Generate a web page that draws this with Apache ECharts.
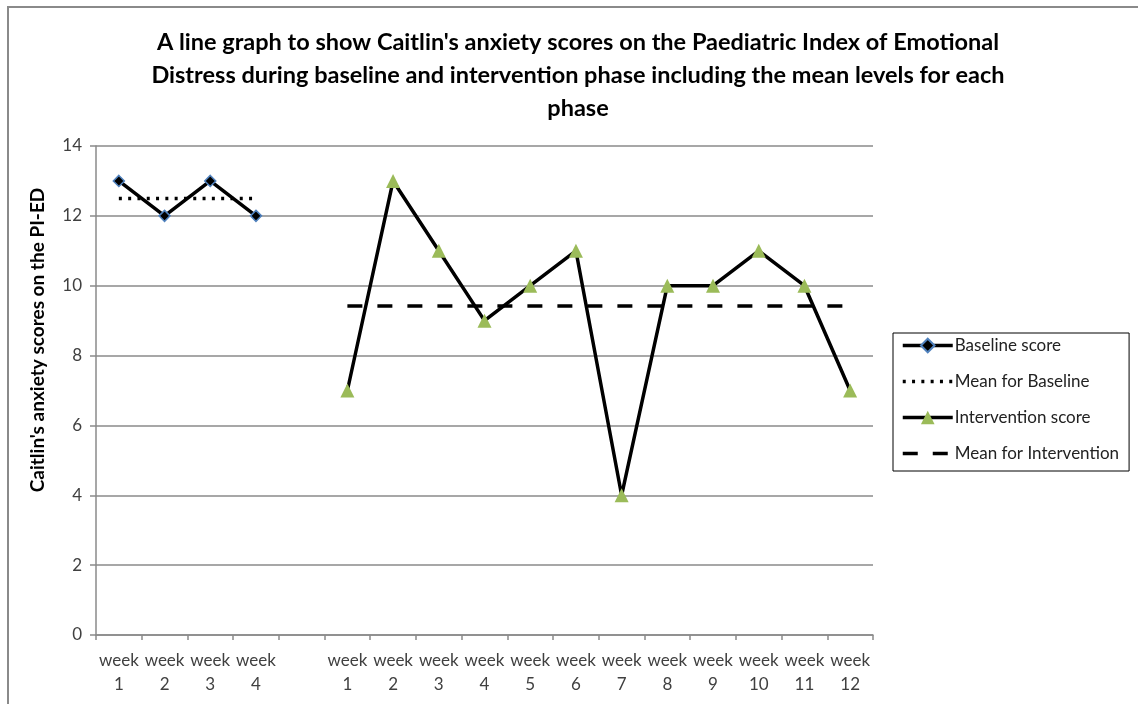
<!DOCTYPE html>
<html>
<head>
<meta charset="utf-8">
<script src="https://cdn.jsdelivr.net/npm/echarts@6/dist/echarts.min.js"></script>
<style>
  html, body { margin: 0; padding: 0; background: #fff; }
  #frame { position: absolute; left: 7px; top: 6px; width: 1131px; height: 698px;
           border-left: 2px solid #8a8a8a; border-top: 2px solid #8a8a8a; box-sizing: border-box; }
  #chart { position: absolute; left: 0; top: 0; width: 1138px; height: 704px; }
</style>
</head>
<body>
<div id="frame"></div>
<div id="chart"></div>
<script>
// Week labels: baseline weeks 1-4, a blank gap, then intervention weeks 1-12
const categories = ['week\n1', 'week\n2', 'week\n3', 'week\n4', '',
  'week\n1', 'week\n2', 'week\n3', 'week\n4', 'week\n5', 'week\n6',
  'week\n7', 'week\n8', 'week\n9', 'week\n10', 'week\n11', 'week\n12'];

const baselineScores = [13, 12, 13, 12];
const interventionScores = [7, 13, 11, 9, 10, 11, 4, 10, 10, 11, 10, 7];
const yTicks = [0, 2, 4, 6, 8, 10, 12, 14];

const mean = arr => arr.reduce((a, b) => a + b, 0) / arr.length;
const gap = 1;
const baselineData = baselineScores.concat(new Array(gap + interventionScores.length).fill(null));
const interventionData = new Array(baselineScores.length + gap).fill(null).concat(interventionScores);
const baselineMean = baselineData.map(v => v === null ? null : mean(baselineScores));
const interventionMean = interventionData.map(v => v === null ? null : mean(interventionScores));

const FONT = 'Lato, "Open Sans", sans-serif';
const DOTTED = [3, 6.3];
const DASHED = [15, 15];

const chart = echarts.init(document.getElementById('chart'));
chart.setOption({
  animation: false,
  title: {
    text: "A line graph to show Caitlin's anxiety scores on the Paediatric Index of Emotional\nDistress during baseline and intervention phase including the mean levels for each\nphase",
    left: 573, top: 21, textAlign: 'center',
    textStyle: { fontFamily: FONT, fontWeight: 'bold', fontSize: 23.5, lineHeight: 33, color: '#000' }
  },
  graphic: [{
    type: 'text', x: 38, y: 340, rotation: Math.PI / 2,
    style: {
      text: "Caitlin's anxiety scores on the PI-ED",
      font: 'bold 19px ' + FONT, fill: '#000',
      align: 'center', verticalAlign: 'middle'
    }
  }],
  grid: { left: 96, right: 265, top: 146, bottom: 69 },
  legend: {
    orient: 'vertical', left: 893, top: 333,
    padding: [4, 10, 9, 8],
    itemGap: 19, itemWidth: 50, itemHeight: 17,
    borderColor: '#000', borderWidth: 1,
    textStyle: { fontFamily: FONT, fontSize: 17, color: '#222', padding: [0, 0, 0, -3] },
    lineStyle: { width: 3.5 },
    data: [
      { name: 'Baseline score' },
      { name: 'Mean for Baseline', itemStyle: { opacity: 0 }, lineStyle: { width: 3.5, type: DOTTED } },
      { name: 'Intervention score' },
      { name: 'Mean for Intervention', itemStyle: { opacity: 0 }, lineStyle: { width: 3.5, type: DASHED } }
    ]
  },
  xAxis: {
    type: 'category', data: categories, boundaryGap: true,
    axisLine: { lineStyle: { color: '#8a8a8a', width: 1.5 } },
    axisTick: { show: true, length: 5, interval: 0, lineStyle: { color: '#8a8a8a', width: 1.5 } },
    axisLabel: { interval: 0, fontFamily: FONT, fontSize: 17, lineHeight: 24, color: '#404040', margin: 14 }
  },
  yAxis: {
    type: 'value', min: yTicks[0], max: yTicks[yTicks.length - 1], interval: 2,
    axisLine: { show: true, lineStyle: { color: '#8a8a8a', width: 1.5 } },
    axisTick: { show: true, length: 6, lineStyle: { color: '#8a8a8a', width: 1.5 } },
    axisLabel: { fontFamily: FONT, fontSize: 17, color: '#404040', margin: 14 },
    splitLine: { lineStyle: { color: '#8a8a8a', width: 1.5 } }
  },
  series: [
    {
      name: 'Baseline score', type: 'line', data: baselineData,
      symbol: 'diamond', symbolSize: 11,
      itemStyle: { color: '#000', borderColor: '#4f81bd', borderWidth: 1.5 },
      lineStyle: { color: '#000', width: 3.5 }, z: 5
    },
    {
      name: 'Mean for Baseline', type: 'line', data: baselineMean,
      symbol: 'none', itemStyle: { color: '#000' },
      lineStyle: { color: '#000', width: 3.5, type: DOTTED, cap: 'butt' }, z: 3
    },
    {
      name: 'Intervention score', type: 'line', data: interventionData,
      symbol: 'triangle', symbolSize: 14,
      itemStyle: { color: '#9bbb59', borderWidth: 0 },
      lineStyle: { color: '#000', width: 3.5 }, z: 5
    },
    {
      name: 'Mean for Intervention', type: 'line', data: interventionMean,
      symbol: 'none', itemStyle: { color: '#000' },
      lineStyle: { color: '#000', width: 3.5, type: DASHED, cap: 'butt' }, z: 3
    }
  ]
});
</script>
</body>
</html>
